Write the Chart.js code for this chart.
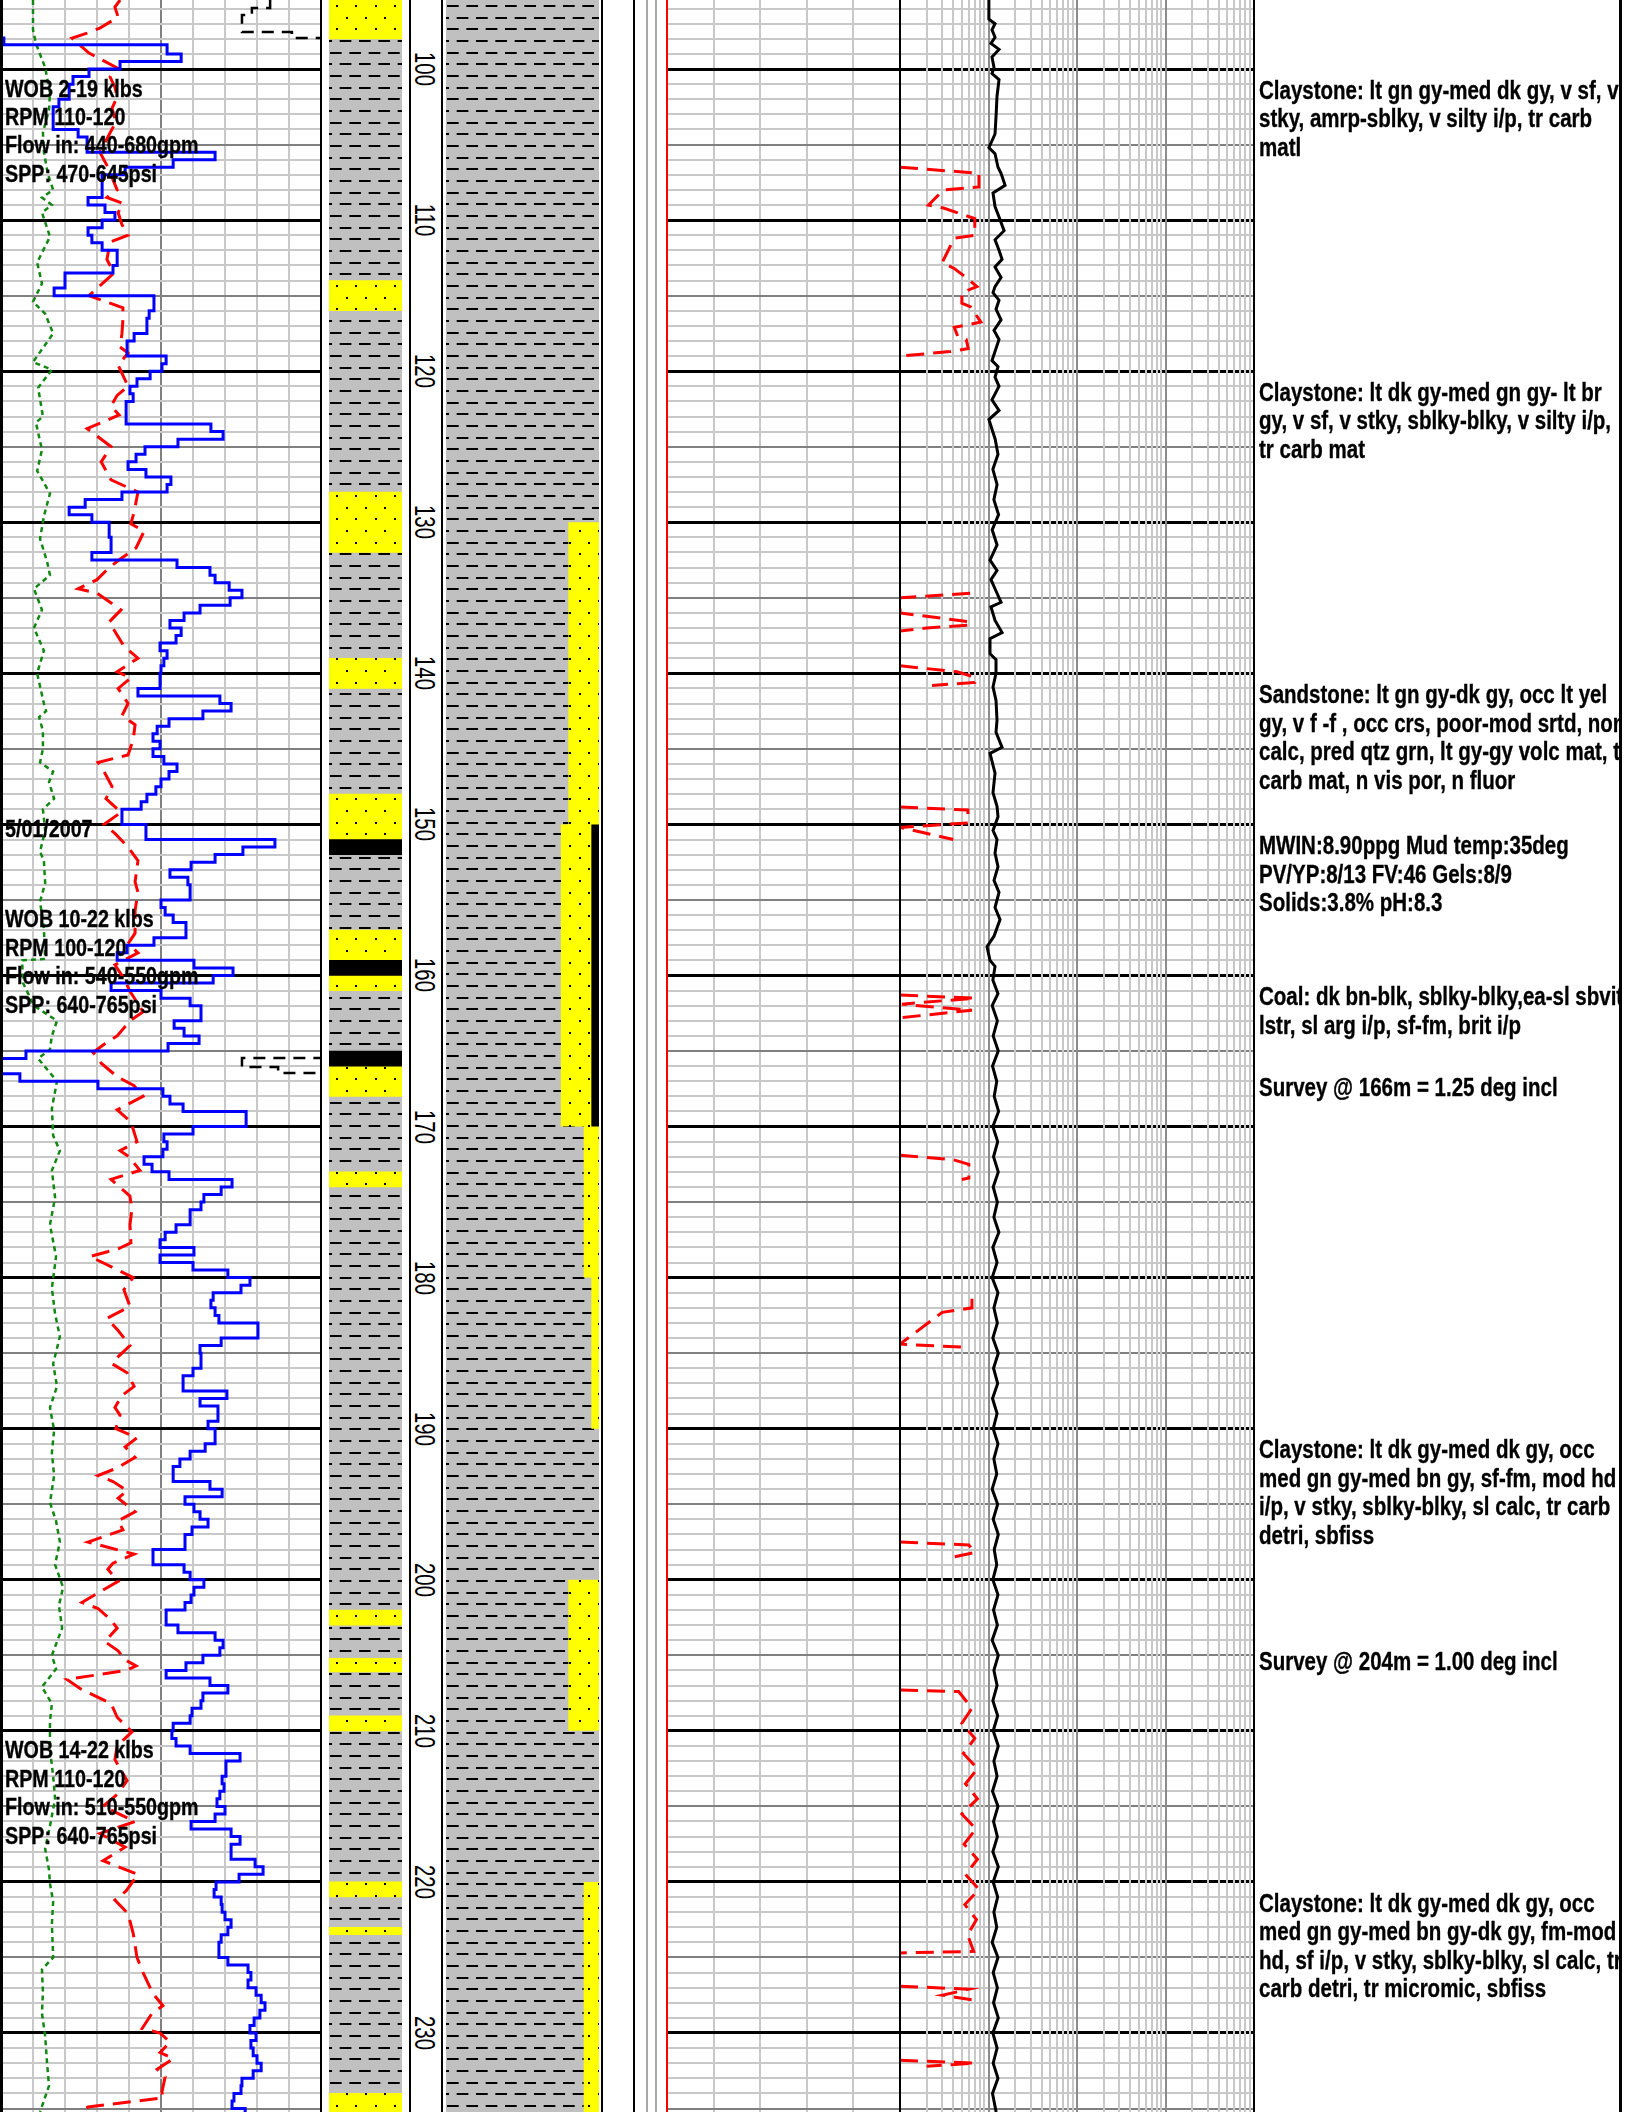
<!DOCTYPE html>
<html>
<head>
<meta charset="utf-8">
<script src="https://cdn.jsdelivr.net/npm/chart.js@4.4.1/dist/chart.umd.min.js"></script>
<style>
  html, body { margin: 0; padding: 0; background: #fff; }
  #log { position: relative; width: 1632px; height: 2112px; overflow: hidden; background: #fff; }
  #log canvas { position: absolute; top: 0; }
  .rule { position: absolute; top: 0; height: 2112px; }
  .note, .remark {
    position: absolute; white-space: nowrap; color: #000; font-weight: bold;
    font-family: "Liberation Sans", Arial, Helvetica, sans-serif;
    transform-origin: 0 0; transform: scaleX(0.82);
    -webkit-text-stroke: 0.35px #000;
  }
  .note { font-size: 24px; line-height: 28.4px; left: 5px; }
  .remark { font-size: 25px; line-height: 28.5px; left: 0; }
  #remarks { position: absolute; left: 1256px; top: 0; height: 2112px; overflow: hidden; }
  .depth {
    position: absolute; width: 60px; height: 30px; line-height: 30px; text-align: center;
    font-family: "Liberation Sans", Arial, sans-serif; font-size: 29px; color: #000;
    transform: rotate(90deg) scaleX(0.7);
  }
</style>
</head>
<body>
<div id="log"></div>
<script>
// ---------- depth window ----------
const depthTop = 95.43;
const depthBottom = 235.23;
const depthLabels = [100, 110, 120, 130, 140, 150, 160, 170, 180, 190, 200, 210, 220, 230];

// ---------- track 1 curves: [depth m, value in chart divisions 0-10] ----------
const ropSeries = [
  [95.43,-1.9],[97.95,0.09],[98.4,5.19],[99.0,5.63],[99.5,3.72],[100.0,2.75],[100.5,2.25],[101.0,2.13],
  [102.0,1.81],[102.5,1.63],[104.0,2.41],[104.5,2.69],[105.5,6.69],[106.0,5.38],[106.5,3.88],[107.0,3.16],
  [108.5,2.72],[109.0,3.25],[109.5,3.56],[110.0,3.16],[110.5,2.72],[111.0,2.84],[111.5,3.16],[112.0,3.63],
  [113.0,3.5],[113.5,2.0],[114.5,1.66],[115.0,4.78],[116.0,4.63],[116.5,4.56],[117.5,4.16],[118.0,3.94],
  [119.0,5.16],[119.5,5.03],[120.0,4.66],[120.5,4.25],[121.0,4.03],[121.5,4.13],[122.0,3.91],[123.5,6.56],
  [124.0,6.94],[124.5,5.53],[125.0,4.5],[125.5,4.22],[126.0,3.97],[126.5,4.53],[127.0,5.31],[127.5,5.19],
  [128.0,3.78],[128.5,2.63],[129.0,2.13],[129.5,2.84],[130.0,3.38],[131.0,3.44],[132.0,2.84],[132.5,5.5],
  [133.0,6.53],[133.5,6.69],[134.0,7.13],[134.5,7.53],[135.0,7.16],[135.5,6.22],[136.0,5.72],[136.5,5.28],
  [137.0,5.63],[137.5,5.47],[138.0,4.97],[138.5,5.19],[139.0,5.09],[139.5,5.0],[140.0,4.97],[141.0,4.28],
  [141.5,6.84],[142.0,7.19],[142.5,6.31],[143.0,5.25],[143.5,4.88],[144.0,4.75],[144.5,4.97],[145.0,4.75],
  [145.5,5.09],[146.0,5.5],[146.5,5.25],[147.0,5.0],[147.5,4.84],[148.0,4.56],[148.5,4.38],[149.0,3.78],
  [150.0,4.53],[151.0,8.56],[151.5,7.56],[152.0,6.69],[152.5,5.94],[153.0,5.28],[153.5,5.84],[154.0,5.91],
  [155.0,5.0],[155.5,5.13],[156.0,5.38],[156.5,5.78],[157.5,4.78],[158.0,3.94],[158.5,3.63],[159.0,6.03],
  [159.5,7.25],[160.0,6.63],[160.5,3.44],[161.0,5.0],[161.5,5.91],[162.0,6.25],[163.0,5.41],[163.5,5.72],
  [164.0,6.19],[164.5,5.22],[165.0,0.78],[165.5,-1.9],[166.5,0.59],[167.0,3.03],[167.5,5.06],[168.0,5.28],
  [168.5,5.69],[169.0,7.66],[170.0,6.0],[170.5,5.09],[171.0,5.19],[171.5,5.06],[172.0,4.47],[172.5,4.72],
  [173.0,5.25],[173.5,7.22],[174.0,6.88],[174.5,6.34],[175.0,6.25],[175.5,5.91],[176.5,5.47],[177.0,5.13],
  [177.5,4.97],[178.0,6.03],[178.5,4.97],[179.0,6.0],[179.5,7.09],[180.0,7.78],[180.5,7.5],[181.0,6.63],
  [181.5,6.56],[182.0,6.69],[182.5,6.81],[183.0,8.03],[184.0,6.88],[184.5,6.22],[185.0,6.25],[186.0,6.0],
  [186.5,5.69],[187.5,7.06],[188.0,6.22],[188.5,6.78],[189.5,6.47],[190.0,6.69],[191.0,6.38],[191.5,5.91],
  [192.0,5.59],[192.5,5.38],[193.5,6.53],[194.0,6.91],[194.5,5.75],[195.0,6.03],[195.5,6.22],[196.0,6.47],
  [196.5,5.97],[197.0,5.75],[198.0,4.75],[199.0,5.72],[199.5,5.91],[200.0,6.34],[200.5,6.03],[201.0,5.94],
  [201.5,5.75],[202.0,5.16],[203.0,5.53],[203.5,6.69],[204.0,6.94],[204.5,6.84],[205.0,6.31],[205.5,5.78],
  [206.0,5.16],[206.5,6.53],[207.0,7.09],[207.5,6.31],[208.0,6.25],[208.5,5.97],[209.0,5.91],[209.5,5.38],
  [210.0,5.34],[210.5,5.47],[211.0,5.91],[211.5,7.47],[212.0,7.03],[213.0,6.91],[213.5,6.97],[214.0,6.84],
  [214.5,6.75],[215.0,7.0],[215.5,6.69],[216.0,5.94],[216.5,7.19],[217.0,7.47],[217.5,7.19],[218.5,7.94],
  [219.0,8.19],[219.5,7.44],[220.0,6.72],[220.5,6.66],[221.0,6.88],[221.5,6.91],[222.0,7.0],[222.5,7.19],
  [223.0,7.09],[223.5,6.88],[224.0,6.81],[225.0,7.09],[225.5,7.72],[226.0,7.81],[226.5,7.72],[227.0,7.97],
  [227.5,8.13],[228.0,8.25],[228.5,8.09],[229.0,7.91],[229.5,7.78],[230.0,7.97],[230.5,7.81],[231.0,7.88],
  [231.5,8.0],[232.0,8.13],[232.5,7.88],[233.0,7.53],[233.5,7.5],[234.0,7.28],[234.5,7.22],[235.0,7.63],
  [235.23,7.63]
];

const dxcSeries = [
  [95.43,3.72],[95.9,3.56],[96.56,3.66],[97.29,3.09],[97.62,2.69],[97.95,2.22],[98.94,2.75],[99.93,3.63],
  [100.53,3.41],[101.2,3.56],[101.85,3.63],[102.6,3.47],[103.5,3.59],[104.5,3.34],[105.5,3.09],[106.5,3.34],
  [108.0,3.63],[108.5,3.31],[108.9,3.81],[109.5,3.66],[110.3,3.78],[111.0,3.97],[111.45,3.41],[112.6,3.31],
  [113.5,3.53],[115.0,2.75],[115.8,3.81],[116.6,3.81],[117.5,3.78],[118.4,3.72],[118.8,3.97],[119.6,3.66],
  [121.0,3.97],[121.6,3.63],[122.3,3.44],[122.9,3.69],[123.8,2.69],[125.0,3.44],[126.0,3.13],[127.2,3.44],
  [128.0,4.28],[129.3,4.16],[130.1,4.06],[130.6,4.47],[131.7,4.22],[132.4,3.75],[133.0,3.38],[133.8,3.0],
  [134.4,2.41],[134.7,3.0],[135.8,3.75],[136.6,3.38],[138.2,3.84],[139.0,4.28],[139.9,3.63],[140.3,4.06],
  [141.0,3.66],[142.0,3.97],[142.8,3.78],[143.4,4.19],[144.4,4.13],[145.4,3.97],[145.9,3.03],[146.5,3.22],
  [147.5,3.47],[148.3,3.28],[149.2,3.75],[150.0,3.22],[150.6,3.56],[151.5,3.97],[152.4,4.28],[153.8,4.19],
  [154.5,4.28],[155.7,4.19],[157.2,4.19],[157.9,3.97],[158.5,4.28],[159.3,3.56],[160.2,3.84],[161.05,4.03],
  [162.4,4.44],[163.0,4.03],[164.0,3.63],[164.6,3.19],[165.1,2.88],[165.8,3.13],[166.7,3.63],[167.3,4.16],
  [168.0,4.44],[168.9,3.63],[169.7,4.06],[171.0,4.25],[171.6,3.72],[172.0,4.0],[172.9,4.34],[173.5,3.44],
  [174.6,4.03],[175.5,4.09],[176.5,4.03],[177.7,4.06],[178.1,3.66],[178.6,2.78],[179.5,3.66],[180.0,4.13],
  [180.8,3.84],[181.9,4.03],[182.7,3.31],[183.5,3.66],[184.5,4.03],[185.3,3.63],[185.7,3.47],[186.3,3.94],
  [187.2,4.16],[187.8,3.78],[188.6,3.56],[189.1,3.72],[190.0,3.59],[190.6,4.25],[191.2,3.88],[191.9,4.19],
  [192.6,3.63],[193.1,3.03],[193.5,3.5],[194.1,3.94],[194.6,3.66],[195.5,4.19],[196.1,3.66],[196.7,3.81],
  [197.5,2.72],[197.8,3.25],[198.3,4.16],[198.9,3.5],[199.3,3.34],[200.1,3.66],[200.8,3.09],[201.5,2.53],
  [201.9,3.03],[202.6,3.41],[203.2,3.63],[204.1,3.25],[204.7,3.66],[205.3,3.88],[205.7,4.22],[206.0,3.91],
  [206.6,2.06],[207.2,2.47],[208.2,3.44],[209.1,3.63],[210.07,4.09],[211.0,3.63],[211.9,3.56],[213.3,3.94],
  [214.2,3.63],[215.0,3.19],[216.0,4.19],[216.8,3.09],[217.7,3.88],[218.6,3.19],[219.5,4.28],[220.6,3.91],
  [221.2,3.56],[222.1,3.97],[223.4,4.13],[225.0,4.25],[226.0,4.44],[227.4,4.75],[228.2,5.06],[228.7,4.72],
  [229.7,4.41],[230.0,4.97],[230.6,5.28],[231.3,4.97],[231.7,5.38],[232.4,4.88],[232.9,5.13],[233.9,5.03],
  [234.3,5.06],[234.9,2.72],[235.23,2.47]
];

const rpmSeries = [
  [95.43,1.0],[97.4,1.0],[98.3,1.09],[99.9,1.38],[101.6,1.53],[102.7,1.5],[104.2,1.31],[105.5,1.34],
  [107.0,1.47],[108.0,1.63],[108.5,1.28],[109.0,1.59],[109.5,1.28],[111.1,1.53],[112.8,1.13],[114.2,1.28],
  [115.4,1.0],[116.2,1.38],[117.5,1.63],[119.4,1.0],[119.9,1.59],[121.1,1.16],[123.0,1.31],[123.4,1.09],
  [125.2,1.28],[126.6,1.13],[128.1,1.53],[129.6,1.34],[131.1,1.22],[132.6,1.44],[133.5,1.53],[134.4,1.03],
  [135.8,1.28],[137.0,1.03],[138.5,1.34],[140.0,1.13],[142.0,1.34],[142.5,1.41],[142.9,1.19],[143.8,1.31],
  [145.0,1.31],[145.9,1.22],[146.5,1.63],[147.2,1.5],[148.3,1.66],[149.0,1.31],[150.4,1.38],[151.8,1.22],
  [152.4,1.34],[153.9,1.38],[155.1,1.22],[156.9,1.34],[158.9,1.38],[159.0,0.66],[160.5,0.69],[162.0,1.03],
  [163.0,1.75],[164.0,1.59],[164.9,1.53],[165.5,1.16],[167.0,1.75],[168.8,1.59],[170.6,1.63],[171.6,1.84],
  [172.9,1.59],[174.7,1.69],[176.5,1.53],[178.6,1.72],[180.7,1.59],[182.4,1.69],[183.9,1.84],[185.7,1.63],
  [187.2,1.75],[188.6,1.53],[190.1,1.66],[191.6,1.59],[193.1,1.66],[194.9,1.53],[196.1,1.72],[197.5,1.84],
  [199.0,1.69],[200.5,1.94],[201.7,1.81],[203.2,1.91],[205.0,1.59],[205.9,1.72],[207.1,1.28],[208.2,1.59],
  [209.4,1.53],[211.2,1.53],[213.0,1.63],[214.5,1.69],[216.3,1.53],[217.8,1.38],[219.2,1.5],[220.1,1.53],
  [221.3,1.63],[222.8,1.59],[225.0,1.63],[225.8,1.28],[227.3,1.31],[228.7,1.28],[230.2,1.38],[232.0,1.44],
  [233.5,1.5],[235.23,1.22]
];

// backup trace for the rate curve where it leaves the track
const ropBackup = [
  [95.43,8.41],[95.96,7.84],[96.43,7.53],[97.55,9.09],[97.95,10.3],
  [165.46,7.53],[166.06,8.66],[166.46,10.3],[235.23,10.3]
];

// ---------- cuttings column: bed intervals [top, base] m ----------
const sandBeds = [[95.43,98],[114,116],[128,132],[139,141],[148,151],[157,159],[160,161],[166,168],
  [173,174],[202,203],[205.2,206.1],[209,210],[220,221],[223,223.5],[234,235.23]];
const coalBeds = [[151,152],[159,160],[165,166]];

// ---------- interpreted lithology: interval percentages ----------
const mixTop  = [130, 150, 170, 180, 200, 220];
const mixBase = [150, 170, 180, 190, 210, 235.23];
const sandPct = [20, 20, 10, 5, 20, 10];
const coalPct = [0, 5, 0, 0, 0, 0];

// ---------- gas track (log units) ----------
const gasBursts = [
  [[106.5,1.0],[106.9,7.8],[107.8,7.8],[108.0,3.1],[109.0,2.1],[109.2,3.1],[109.9,7.0],[111.0,7.0],[111.2,4.1],
   [112.8,3.0],[113.2,4.1],[113.8,5.6],[114.4,7.4],[114.8,5.0],[115.5,5.0],[115.75,6.3],[116.75,8.2],[117.1,4.1],
   [117.7,4.5],[117.9,5.6],[118.5,5.9],[118.7,3.7],[119.0,1.0]],
  [[134.7,6.2],[135.0,1.0],[136.0,1.0],[136.6,6.2],[136.8,6.2],[137.0,2.0],[137.2,1.0]],
  [[139.5,1.0],[139.9,4.4],[140.25,7.0],[140.6,7.0],[140.8,2.3]],
  [[148.85,1.0],[149.05,5.85],[149.9,5.85],[150.2,1.0],[151.0,4.0]],
  [[161.3,1.0],[161.5,7.0],[161.9,1.05],[162.3,6.5],[162.8,1.0]],
  [[171.9,1.0],[172.2,4.0],[172.5,6.0],[173.4,6.0],[173.5,5.0]],
  [[181.4,6.5],[182.0,6.5],[182.3,3.0],[184.4,1.0],[184.6,5.0]],
  [[197.5,1.0],[197.7,6.0],[198.2,7.0],[198.5,4.0]],
  [[207.3,1.0],[207.4,4.6],[208.5,6.5],[209.5,5.0],[210.5,7.0],[211.5,5.2],[212.5,7.5],[213.5,5.5],[214.5,7.5],
   [215.5,5.0],[216.5,7.2],[217.5,5.3],[218.5,7.5],[219.5,5.5],[220.5,7.8],[221.5,5.4],[222.5,7.3],[223.5,5.8],
   [224.6,6.8],[224.7,1.0]],
  [[226.9,1.0],[227.1,6.0],[227.5,3.0],[227.8,6.5]],
  [[231.8,1.0],[232.0,7.0],[232.2,2.0]]
];

const totalGas = [
  [95.43,10.1],[96.7,10.1],[97.0,11.85],[97.4,10.95],[97.9,11.85],[98.3,10.66],[98.7,13.15],[99.2,10.95],
  [99.9,11.54],[100.3,10.95],[100.7,13.15],[101.8,12.48],[103.0,12.2],[104.3,11.85],[105.2,10.1],[105.6,11.85],
  [106.5,12.81],[106.9,13.86],[107.7,15.4],[108.2,11.24],[109.1,11.85],[109.8,13.15],[110.7,15.0],[111.3,11.85],
  [112.0,13.15],[112.6,14.23],[113.1,11.85],[113.8,13.86],[114.4,11.85],[114.8,11.24],[115.3,13.15],[115.9,12.16],
  [116.6,13.86],[117.3,11.54],[117.9,13.15],[119.3,10.95],[119.7,12.81],[120.4,11.85],[121.0,13.15],[121.9,10.95],
  [122.6,13.15],[123.2,10.1],[124.5,11.9],[125.5,12.8],[126.5,11.2],[127.5,12.5],[128.5,11.5],[129.5,13.0],
  [130.5,11.0],[131.5,12.5],[132.5,10.4],[133.2,12.48],[133.8,10.66],[134.7,12.48],[135.3,13.86],[135.6,10.66],
  [136.5,11.85],[137.3,14.23],[137.7,10.4],[138.7,10.4],[139.1,12.16],[140.0,12.16],[140.9,11.24],[141.8,12.16],
  [143.1,12.48],[143.9,12.16],[144.9,14.23],[145.3,10.4],[146.6,11.85],[147.9,11.24],[148.8,12.48],[149.5,12.81],
  [150.4,11.24],[151.0,12.48],[151.9,11.85],[152.8,12.81],[153.7,11.54],[154.5,13.15],[155.5,11.85],[156.3,13.5],
  [157.4,11.54],[158.1,9.62],[159.0,10.4],[159.4,11.85],[160.3,11.2],[161.2,12.8],[162.0,11.0],[163.0,12.6],
  [164.0,11.3],[165.0,12.9],[166.0,11.1],[167.0,12.4],[168.0,11.6],[169.0,13.0],[170.0,11.2],[171.0,12.7],
  [172.0,11.4],[173.0,12.9],[174.0,11.3],[175.0,12.6],[176.0,11.5],[177.0,13.1],[178.0,11.2],[179.0,12.5],
  [180.0,11.0],[181.0,12.8],[182.0,11.5],[183.0,12.6],[184.0,11.2],[185.0,12.9],[186.0,11.4],[187.0,12.7],
  [188.0,11.1],[189.0,12.5],[190.0,11.3],[191.0,12.8],[192.0,11.5],[193.0,12.4],[194.0,11.0],[195.0,12.7],
  [196.0,11.3],[197.0,12.9],[198.0,11.6],[199.0,12.4],[200.0,11.2],[201.0,12.8],[202.0,11.4],[203.0,12.6],
  [204.0,11.0],[205.0,12.9],[206.0,11.5],[207.0,12.5],[208.0,11.2],[209.0,12.7],[210.0,11.3],[211.0,12.9],
  [212.0,11.5],[213.0,12.5],[214.0,11.1],[215.0,12.8],[216.0,11.4],[217.0,12.6],[218.0,11.2],[219.0,12.9],
  [220.0,11.3],[221.0,12.7],[222.0,11.5],[223.0,12.4],[224.0,11.0],[225.0,12.8],[226.0,11.3],[227.0,12.6],
  [228.0,11.4],[229.0,12.9],[230.0,11.2],[231.0,12.5],[232.0,11.3],[233.0,12.8],[234.0,11.1],[235.23,12.2]
];

// ---------- annotations ----------
const drillNotes = [
  { depth: 100, lines: ["WOB 2-19 klbs", "RPM 110-120", "Flow in: 440-680gpm", "SPP: 470-645psi"] },
  { depth: 149, lines: ["5/01/2007"] },
  { depth: 155, lines: ["WOB 10-22 klbs", "RPM 100-120", "Flow in: 540-550gpm", "SPP: 640-765psi"] },
  { depth: 210, lines: ["WOB 14-22 klbs", "RPM 110-120", "Flow in: 510-550gpm", "SPP: 640-765psi"] }
];
const remarks = [
  { depth: 100, lines: ["Claystone: lt gn gy-med dk gy, v sf, v", "stky, amrp-sblky, v silty i/p, tr carb", "matl"] },
  { depth: 120, lines: ["Claystone: lt dk gy-med gn gy- lt br", "gy, v sf, v stky, sblky-blky, v silty i/p,", "tr carb mat"] },
  { depth: 140, lines: ["Sandstone: lt gn gy-dk gy, occ lt yel", "gy, v f -f , occ crs, poor-mod srtd, non", "calc, pred qtz grn, lt gy-gy volc mat, tr", "carb mat, n vis por, n fluor"] },
  { depth: 150, lines: ["MWIN:8.90ppg Mud temp:35deg", "PV/YP:8/13 FV:46 Gels:8/9", "Solids:3.8% pH:8.3"] },
  { depth: 160, lines: ["Coal: dk bn-blk, sblky-blky,ea-sl sbvit", "lstr, sl arg i/p, sf-fm, brit i/p"] },
  { depth: 166, lines: ["Survey @ 166m = 1.25 deg incl"] },
  { depth: 190, lines: ["Claystone: lt dk gy-med dk gy, occ", "med gn gy-med bn gy, sf-fm, mod hd", "i/p, v stky, sblky-blky, sl calc, tr carb", "detri, sbfiss"] },
  { depth: 204, lines: ["Survey @ 204m = 1.00 deg incl"] },
  { depth: 220, lines: ["Claystone: lt dk gy-med dk gy, occ", "med gn gy-med bn gy-dk gy, fm-mod", "hd, sf i/p, v stky, sblky-blky, sl calc, tr", "carb detri, tr micromic, sbfiss"] }
];

// ---------- layout ----------
const H = 2112;
const root = document.getElementById('log');

function addCanvas(left, width) {
  const c = document.createElement('canvas');
  c.width = width; c.height = H;
  c.style.left = left + 'px';
  c.style.width = width + 'px'; c.style.height = H + 'px';
  root.appendChild(c);
  return c;
}
function addRule(left, width, color) {
  const d = document.createElement('div');
  d.className = 'rule';
  d.style.left = left + 'px'; d.style.width = width + 'px'; d.style.background = color;
  root.appendChild(d);
}

// ---------- fills ----------
function tile(bg, mark) {
  const t = document.createElement('canvas');
  t.width = 58; t.height = 70;
  const g = t.getContext('2d');
  g.fillStyle = bg; g.fillRect(0, 0, 58, 70);
  g.fillStyle = '#000';
  for (let r = 0; r < 6; r++) {
    const y = Math.round(r * 70 / 6) + 5;
    const off = (r % 2) ? 9.67 : 0;
    for (let k = -1; k < 4; k++) {
      const x = off + k * 58 / 3;
      if (mark === 'dash') g.fillRect(x + 1, y, 11.7, 2);
      else g.fillRect(Math.round(x + 7), y, 2, 2);
    }
  }
  return g.createPattern(t, 'repeat');
}
const shaleFill = tile('#c0c0c0', 'dash');
const sandFill = tile('#ffff00', 'dot');

// ---------- shared axis settings ----------
const depthTicks = [];
for (let d = Math.ceil(depthTop); d <= depthBottom; d++) depthTicks.push(d);

function depthAxis(showGrid, z) {
  return {
    type: 'linear', reverse: true, min: depthTop, max: depthBottom, display: true,
    ticks: { display: false }, border: { display: false },
    grid: {
      display: showGrid, drawTicks: false, z: z,
      color: c => (c.tick.value % 10 === 0 ? '#000000' : c.tick.value % 5 === 0 ? '#808080' : '#c8c8c8'),
      lineWidth: c => (c.tick.value % 10 === 0 ? 3 : 2)
    },
    afterBuildTicks: s => { s.ticks = depthTicks.map(v => ({ value: v })); }
  };
}
function valueAxis(type, min, max, ticks, colorFn, z) {
  return {
    type: type, min: min, max: max, display: true,
    ticks: { display: false }, border: { display: false },
    grid: { drawTicks: false, z: z, color: colorFn, lineWidth: 2 },
    afterBuildTicks: s => { s.ticks = ticks.map(v => ({ value: v })); }
  };
}
const baseOptions = {
  responsive: false, animation: false, devicePixelRatio: 1, events: [],
  layout: { padding: 0 },
  plugins: { legend: { display: false }, tooltip: { enabled: false } },
  elements: { point: { radius: 0 }, line: { tension: 0 } }
};
const pts = arr => arr.map(([d, v]) => ({ x: v, y: d }));

// ---------- track 1: drilling curves ----------
const trackTicks = [0, 1, 2, 3, 4, 5, 6, 7, 8, 9, 10];
const track1 = new Chart(addCanvas(1, 320), {
  type: 'line',
  data: { datasets: [
    { data: pts(ropSeries), borderColor: '#0000ff', borderWidth: 3, stepped: 'after', fill: false },
    { data: pts(dxcSeries), borderColor: '#ff0000', borderWidth: 3, borderDash: [18, 9], fill: false },
    { data: pts(rpmSeries), borderColor: '#118811', borderWidth: 2.5, borderDash: [5, 4], fill: false },
    { data: pts(ropBackup), borderColor: '#000000', borderWidth: 2.5, borderDash: [12, 8], stepped: 'after', fill: false }
  ]},
  options: Object.assign({}, baseOptions, {
    indexAxis: 'y',
    scales: {
      x: valueAxis('linear', 0, 10, trackTicks, c => (c.tick.value === 5 ? '#808080' : '#c8c8c8'), -2),
      y: depthAxis(true, -1)
    }
  })
});

// ---------- cuttings column ----------
const bed = arr => arr.map(([a, b]) => ({ x: 'L', y: [a, b] }));
new Chart(addCanvas(329, 73), {
  type: 'bar',
  data: { labels: ['L'], datasets: [
    { data: bed(coalBeds), backgroundColor: '#000000' },
    { data: bed(sandBeds), backgroundColor: sandFill },
    { data: bed([[depthTop, depthBottom]]), backgroundColor: shaleFill }
  ]},
  options: Object.assign({}, baseOptions, {
    datasets: { bar: { barPercentage: 1, categoryPercentage: 1, grouped: false, borderWidth: 0 } },
    scales: {
      x: { type: 'category', display: false },
      y: { type: 'linear', reverse: true, min: depthTop, max: depthBottom, display: false }
    }
  })
});

// ---------- interpreted lithology column ----------
function edgeLine(pctOf) {
  const out = [{ x: 100, y: depthTop }];
  mixTop.forEach((t, i) => {
    out.push({ x: 100 - pctOf(i), y: t });
    out.push({ x: 100, y: mixBase[i] });
  });
  return out;
}
new Chart(addCanvas(446, 153), {
  type: 'line',
  data: { datasets: [
    { data: edgeLine(i => coalPct[i]), stepped: 'after', borderWidth: 0, backgroundColor: '#000000', fill: { value: 100 } },
    { data: edgeLine(i => coalPct[i] + sandPct[i]), stepped: 'after', borderWidth: 0, backgroundColor: sandFill, fill: { value: 100 } },
    { data: [{ x: 0, y: depthTop }, { x: 0, y: depthBottom }], borderWidth: 0, backgroundColor: shaleFill, fill: { value: 100 } }
  ]},
  options: Object.assign({}, baseOptions, {
    indexAxis: 'y',
    scales: {
      x: { type: 'linear', min: 0, max: 100, display: false },
      y: { type: 'linear', reverse: true, min: depthTop, max: depthBottom, display: false }
    }
  })
});

// ---------- gas track, linear part ----------
new Chart(addCanvas(667, 233), {
  type: 'line',
  data: { datasets: [] },
  options: Object.assign({}, baseOptions, {
    indexAxis: 'y',
    scales: {
      x: valueAxis('linear', 0, 5, [1, 2, 3, 4], () => '#c8c8c8', -2),
      y: depthAxis(true, -1)
    }
  })
});

// ---------- gas track, log part ----------
const logTicks = [];
[1, 10, 100, 1000].forEach(dec => { for (let s = 1; s <= 9; s++) logTicks.push(s * dec); });
logTicks.push(10000);
const gasPoints = [];
gasBursts.forEach((b, i) => {
  if (i > 0) gasPoints.push({ x: null, y: b[0][0] - 0.01 });
  b.forEach(([d, v]) => gasPoints.push({ x: v, y: d }));
});
new Chart(addCanvas(900, 354), {
  type: 'line',
  data: { datasets: [
    { data: pts(totalGas), borderColor: '#000000', borderWidth: 3, fill: false },
    { data: gasPoints, borderColor: '#ff0000', borderWidth: 3, borderDash: [18, 9], spanGaps: false, fill: false }
  ]},
  options: Object.assign({}, baseOptions, {
    indexAxis: 'y',
    scales: {
      x: valueAxis('logarithmic', 1, 10000, logTicks,
        c => ([1, 10, 100, 1000, 10000].includes(c.tick.value) ? '#8c8c8c' : '#c8c8c8'), -1),
      y: depthAxis(true, -2)
    }
  })
});

// ---------- track borders ----------
addRule(0, 3, '#000');
addRule(320, 2, '#000');
addRule(409, 2, '#000');
addRule(441, 2, '#000');
addRule(601, 2, '#000');
addRule(633, 2, '#000');
addRule(646, 2, '#a8a8a8');
addRule(655, 2, '#a8a8a8');
addRule(666, 2, '#ff0000');
addRule(899, 2, '#000');
addRule(1253, 2, '#000');
addRule(1619, 3, '#000');

// ---------- text ----------
const yOf = d => track1.scales.y.getPixelForValue(d);

depthLabels.forEach(d => {
  const el = document.createElement('div');
  el.className = 'depth';
  el.textContent = String(d);
  el.style.left = (425 - 30) + 'px';
  el.style.top = (yOf(d) - 15) + 'px';
  root.appendChild(el);
});

drillNotes.forEach(n => {
  const el = document.createElement('div');
  el.className = 'note';
  el.innerHTML = n.lines.join('<br>');
  el.style.top = (yOf(n.depth) + 5.5) + 'px';
  root.appendChild(el);
});

const remarkBox = document.createElement('div');
remarkBox.id = 'remarks';
remarkBox.style.width = (1619 - 1256) + 'px';
root.appendChild(remarkBox);
remarks.forEach(r => {
  const el = document.createElement('div');
  el.className = 'remark';
  el.style.left = '3px';
  el.innerHTML = r.lines.join('<br>');
  el.style.top = (yOf(r.depth) + 6.7) + 'px';
  remarkBox.appendChild(el);
});
</script>
</body>
</html>
